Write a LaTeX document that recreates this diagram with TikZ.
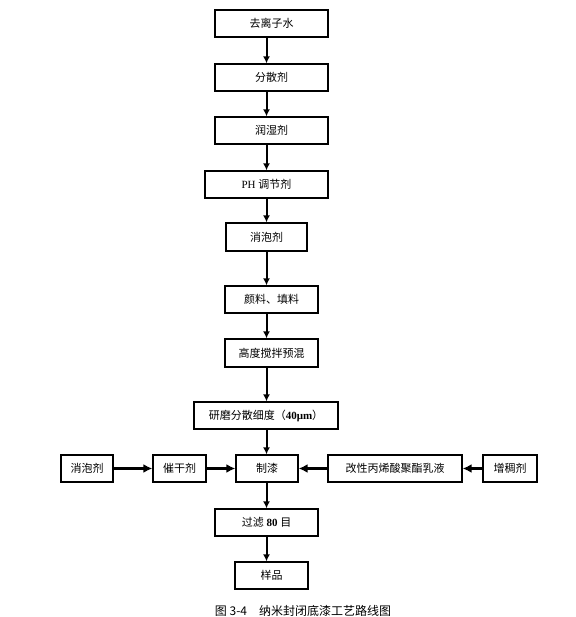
\documentclass[tikz,border=0pt]{standalone}
\usepackage{fontspec}
\setmainfont{Liberation Serif}
\newfontfamily\cjk{Noto Sans CJK SC}
\usetikzlibrary{arrows.meta,positioning,calc}
\tikzset{>=latex}
\tikzset{
  stepbox/.style={draw,line width=1.3pt,minimum height=27,inner sep=0pt,font=\fontsize{11}{13}\selectfont},
  flow/.style={-{Latex[length=7pt,width=7pt]},line width=2pt},
  feed/.style={-{Latex[length=9pt,width=9pt]},line width=3.8pt}
}

\begin{document}
\begin{tikzpicture}[x=1pt,y=-1pt]
    \useasboundingbox (0,0) rectangle (575,617);
    \coordinate (axis) at (266.5,0);
    \node [stepbox,minimum width=113] (water) at (271.5,23.5) {\cjk 去离子水};
    \node [stepbox,minimum width=113] (disp) at (271.5,77.5) {\cjk 分散剂};
    \node [stepbox,minimum width=113] (wet) at (271.5,130.5) {\cjk 润湿剂};
    \node [stepbox,minimum width=123] (ph) at (266.5,184.5) {PH {\cjk 调节剂}};
    \node [stepbox,minimum width=81,minimum height=28] (defoam) at (266.5,237) {\cjk 消泡剂};
    \node [stepbox,minimum width=93] (pigm) at (271.5,299.5) {\cjk 颜料、填料};
    \node [stepbox,minimum width=93,minimum height=28] (premix) at (271.5,353) {\cjk 高度搅拌预混};
    \node [stepbox,minimum width=144] (grind) at (266,415.5) {{\cjk 研磨分散细度（}\textbf{40μm}{\cjk ）}};
    \node [stepbox,minimum width=62] (paint) at (267,468.5) {\cjk 制漆};
    \node [stepbox,minimum width=103] (filter) at (266.5,522.5) {{\cjk 过滤} \textbf{80} {\cjk 目}};
    \node [stepbox,minimum width=73] (sample) at (271.5,575.5) {\cjk 样品};
    % side inputs
    \node [stepbox,minimum width=52] (defoamL) at (87,468.5) {\cjk 消泡剂};
    \node [stepbox,minimum width=53] (drier) at (179.5,468.5) {\cjk 催干剂};
    \node [stepbox,minimum width=134] (emul) at (395,468.5) {\cjk 改性丙烯酸聚酯乳液};
    \node [stepbox,minimum width=54] (thick) at (510,468.5) {\cjk 增稠剂};
    \node [font=\fontsize{12}{14}\selectfont] (cap) at (303,611) {\cjk 图 3-4\quad 纳米封闭底漆工艺路线图};
    \foreach \a/\b in {water/disp,disp/wet,wet/ph,ph/defoam,defoam/pigm,pigm/premix,premix/grind,grind/paint,paint/filter,filter/sample}
      \draw [flow] (\a.south -| axis) -- (\b.north -| axis);
    \draw [feed] (defoamL) -- (drier);
    \draw [feed] (drier) -- (paint);
    \draw [feed] (emul) -- (paint);
    \draw [feed] (thick) -- (emul);
\end{tikzpicture}
\end{document}
